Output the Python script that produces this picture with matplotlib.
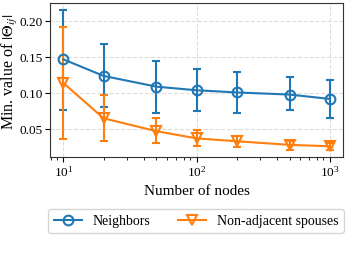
import matplotlib
matplotlib.use("Agg")
import matplotlib.pyplot as plt
from matplotlib.lines import Line2D

plt.rcParams['font.family'] = ['Liberation Serif', 'DejaVu Serif']
plt.rcParams['mathtext.fontset'] = 'stix'

nodes = [10, 20, 50, 100, 200, 500, 1000]
neighbors = [0.147, 0.124, 0.109, 0.104, 0.101, 0.098, 0.092]
neighbors_lo = [0.077, 0.080, 0.073, 0.075, 0.073, 0.076, 0.066]
neighbors_hi = [0.216, 0.169, 0.145, 0.134, 0.129, 0.122, 0.118]
spouses = [0.114, 0.065, 0.047, 0.037, 0.033, 0.028, 0.026]
spouses_lo = [0.036, 0.033, 0.030, 0.026, 0.025, 0.021, 0.021]
spouses_hi = [0.192, 0.098, 0.065, 0.049, 0.040, 0.033, 0.031]
labels = ['Neighbors', 'Non-adjacent spouses']
colors = ['#1f77b4', '#ff7f0e']
markers = ['o', 'v']

fig = plt.figure(figsize=(3.46, 2.58), dpi=100)
ax = fig.add_axes([0.145, 0.392, 0.846, 0.597])

def err(v, lo, hi):
    return [[a - b for a, b in zip(v, lo)], [b - a for a, b in zip(v, hi)]]

series = [(neighbors, neighbors_lo, neighbors_hi), (spouses, spouses_lo, spouses_hi)]
handles = []
for (v, lo, hi), c, m, lab in zip(series, colors, markers, labels):
    ax.errorbar(nodes, v, yerr=err(v, lo, hi), color=c, marker=m, markersize=7,
                markerfacecolor='none', markeredgewidth=1.5, linewidth=1.5,
                capsize=3, elinewidth=1.5, capthick=1.5)
    handles.append(Line2D([], [], color=c, marker=m, markersize=7,
                          markerfacecolor='none', markeredgewidth=1.5,
                          linewidth=1.5, label=lab))

ax.set_xscale('log')
ax.set_yticks([0.05, 0.10, 0.15, 0.20])
ax.tick_params(labelsize=9.5, pad=2)
ax.grid(True, which='major', linestyle='--', color='#dddddd', linewidth=0.8)
ax.set_xlabel('Number of nodes', fontsize=11)
ax.set_ylabel(r'Min. value of $|\Theta_{ij}|$', fontsize=11.5)
ax.yaxis.set_label_coords(-0.104, 0.55)
for s in ax.spines.values():
    s.set_color('#333333')

fig.legend(handles=handles, loc='center', bbox_to_anchor=(0.567, 0.143), ncol=2,
           fontsize=10, frameon=True, handlelength=2.0, columnspacing=2.0)

fig.text(0.0, -0.088, 'Figure 3: Expected minimal value of', fontsize=20,
         ha='left', va='baseline', color='#222222')

fig.savefig('out.png', dpi=100)
